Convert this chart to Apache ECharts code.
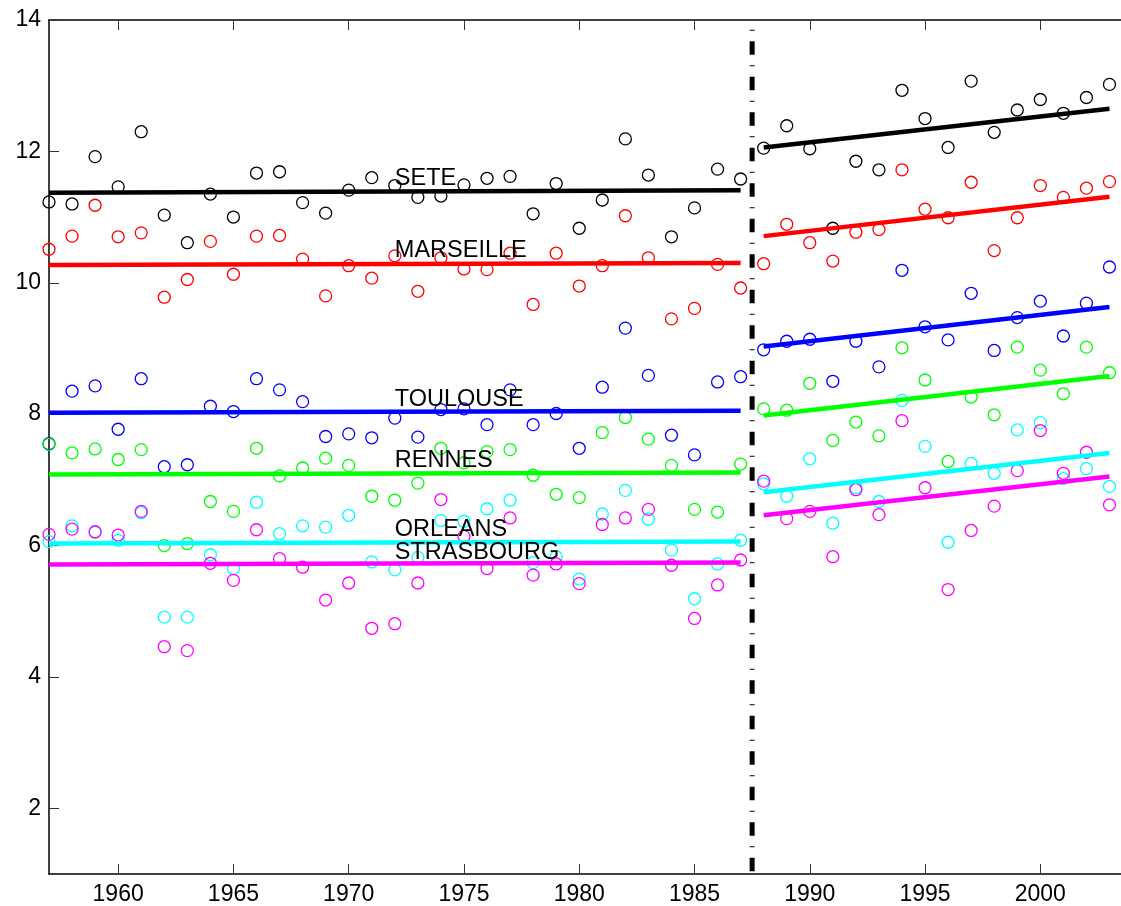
<!DOCTYPE html>
<html>
<head>
<meta charset="utf-8">
<title>Stations – temperature series</title>
<script src="https://cdn.jsdelivr.net/npm/echarts@6/dist/echarts.min.js"></script>
<style>
  html, body { margin: 0; padding: 0; background: #fff; }
  #chart { width: 1121px; height: 906px; }
</style>
</head>
<body>
<div id="chart"></div>
<script>
// Years of observation
const years = [
  1957, 1958, 1959, 1960, 1961, 1962, 1963, 1964, 1965, 1966,
  1967, 1968, 1969, 1970, 1971, 1972, 1973, 1974, 1975, 1976,
  1977, 1978, 1979, 1980, 1981, 1982, 1983, 1984, 1985, 1986,
  1987, 1988, 1989, 1990, 1991, 1992, 1993, 1994, 1995, 1996,
  1997, 1998, 1999, 2000, 2001, 2002, 2003
];

// Annual values per station (1957 → 2003)
const sete = [
  11.23, 11.20, 11.92, 11.46, 12.30, 11.03, 10.61, 11.35, 11.00, 11.67,
  11.69, 11.22, 11.06, 11.41, 11.60, 11.48, 11.30, 11.32, 11.49, 11.59,
  11.62, 11.05, 11.51, 10.83, 11.26, 12.19, 11.64, 10.70, 11.14, 11.73,
  11.58, 12.05, 12.39, 12.04, 10.83, 11.85, 11.72, 12.93, 12.50, 12.06,
  13.07, 12.29, 12.63, 12.79, 12.58, 12.82, 13.02
];
const marseille = [
  10.51, 10.71, 11.18, 10.70, 10.76, 9.78, 10.05, 10.63, 10.13, 10.71,
  10.72, 10.36, 9.80, 10.26, 10.07, 10.41, 9.87, 10.38, 10.21, 10.20,
  10.45, 9.67, 10.45, 9.95, 10.26, 11.02, 10.38, 9.45, 9.61, 10.28,
  9.92, 10.29, 10.89, 10.61, 10.33, 10.77, 10.81, 11.72, 11.12, 10.99,
  11.53, 10.49, 10.99, 11.48, 11.30, 11.44, 11.54
];
const toulouse = [
  7.55, 8.35, 8.43, 7.77, 8.54, 7.20, 7.23, 8.12, 8.04, 8.54,
  8.37, 8.19, 7.66, 7.70, 7.64, 7.94, 7.65, 8.07, 8.08, 7.84,
  8.37, 7.84, 8.01, 7.48, 8.41, 9.31, 8.59, 7.68, 7.38, 8.49,
  8.57, 8.98, 9.11, 9.14, 8.50, 9.11, 8.72, 10.19, 9.33, 9.13,
  9.84, 8.97, 9.47, 9.72, 9.19, 9.69, 10.24
];
const rennes = [
  7.54, 7.41, 7.47, 7.31, 7.46, 6.00, 6.03, 6.67, 6.52, 7.48,
  7.06, 7.18, 7.33, 7.22, 6.75, 6.69, 6.95, 7.48, 7.26, 7.43,
  7.46, 7.07, 6.78, 6.73, 7.72, 7.95, 7.62, 7.22, 6.55, 6.51,
  7.24, 8.08, 8.06, 8.47, 7.60, 7.88, 7.67, 9.01, 8.52, 7.28,
  8.26, 7.99, 9.02, 8.67, 8.31, 9.02, 8.63
];
const orleans = [
  6.06, 6.30, 6.20, 6.08, 6.50, 4.91, 4.91, 5.86, 5.65, 6.66,
  6.18, 6.30, 6.28, 6.46, 5.75, 5.63, 5.82, 6.38, 6.37, 6.56,
  6.69, 5.74, 5.83, 5.49, 6.48, 6.84, 6.40, 5.93, 5.19, 5.72,
  6.08, 6.94, 6.75, 7.32, 6.34, 6.88, 6.67, 8.21, 7.51, 6.05,
  7.25, 7.10, 7.76, 7.87, 7.02, 7.17, 6.90
];
const strasbourg = [
  6.17, 6.25, 6.21, 6.16, 6.52, 4.46, 4.40, 5.73, 5.47, 6.24,
  5.80, 5.67, 5.17, 5.43, 4.74, 4.81, 5.43, 6.70, 6.14, 5.65,
  6.42, 5.55, 5.72, 5.42, 6.32, 6.42, 6.55, 5.70, 4.89, 5.40,
  5.78, 6.98, 6.41, 6.52, 5.83, 6.85, 6.47, 7.90, 6.88, 5.33,
  6.23, 6.60, 7.14, 7.75, 7.10, 7.42, 6.62
];

// Station names, in drawing order
const stationNames = ['SETE', 'MARSEILLE', 'TOULOUSE', 'RENNES', 'ORLEANS', 'STRASBOURG'];
const stationValues = [sete, marseille, toulouse, rennes, orleans, strasbourg];
const stationColors = ['#000000', '#ff0000', '#0000ff', '#00ff00', '#00ffff', '#ff00ff'];

// Fitted trend lines: [value at start, value at end] for each period
const period1Years = [1957, 1987];
const period2Years = [1988, 2003];
const trend1 = [[11.37, 11.41], [10.27, 10.30], [8.02, 8.05], [7.08, 7.11], [6.03, 6.06], [5.71, 5.74]];
const trend2 = [[12.06, 12.65], [10.71, 11.31], [9.03, 9.63], [7.98, 8.58], [6.81, 7.41], [6.46, 7.05]];

// Station name labels
const labelYear = 1972;
const labelValues = [11.59, 10.49, 8.23, 7.30, 6.24, 5.90];

// Break between the two periods
const breakYear = 1987.5;

// Axis ticks
const xTicks = [1960, 1965, 1970, 1975, 1980, 1985, 1990, 1995, 2000];
const yTicks = [2, 4, 6, 8, 10, 12, 14];
const xRange = [1957, 2003.5];
const yRange = [1, 14];

const font = '"Liberation Sans", Arial, Helvetica, sans-serif';

const series = [];

// Observations: open circles
stationNames.forEach((name, s) => {
  series.push({
    name: name,
    type: 'scatter',
    data: years.map((y, i) => [y, stationValues[s][i]]),
    symbol: 'circle',
    symbolSize: 12,
    itemStyle: { color: 'rgba(0,0,0,0)', borderColor: stationColors[s], borderWidth: 1.3, opacity: 1 },
    z: 2,
    silent: true
  });
});

// Trend lines for both periods
stationNames.forEach((name, s) => {
  [[period1Years, trend1[s]], [period2Years, trend2[s]]].forEach(([yrs, vals]) => {
    series.push({
      name: name + ' trend',
      type: 'line',
      data: [[yrs[0], vals[0]], [yrs[1], vals[1]]],
      symbol: 'none',
      lineStyle: { color: stationColors[s], width: 4.5, cap: 'butt', opacity: 1 },
      z: 3,
      silent: true
    });
  });
});

// Station labels
series.push({
  name: 'labels',
  type: 'scatter',
  data: labelValues.map((v, i) => ({ value: [labelYear, v], name: stationNames[i] })),
  symbolSize: 0,
  itemStyle: { opacity: 1 },
  label: {
    show: true,
    position: 'right',
    distance: 0,
    formatter: p => p.name,
    color: '#000000',
    opacity: 1,
    fontFamily: font,
    fontWeight: 'normal',
    fontSize: 23.5,
    textBorderWidth: 0
  },
  z: 5,
  silent: true
});

// Dash-dot separator between the two periods
series.push({
  name: 'break',
  type: 'line',
  data: [[breakYear, yRange[1]], [breakYear, yRange[0]]],
  symbol: 'none',
  lineStyle: { color: '#000', width: 5, type: [13.5, 10.5, 1, 10.5], dashOffset: 14.3, cap: 'butt', opacity: 1 },
  z: 4,
  silent: true
});

const chart = echarts.init(document.getElementById('chart'), null, { renderer: 'canvas' });
chart.setOption({
  animation: false,
  backgroundColor: '#fff',
  grid: { left: 49, right: 0, top: 20, bottom: 31 },
  xAxis: [
    {
      type: 'value',
      position: 'bottom',
      min: xRange[0],
      max: xRange[1],
      axisLine: { show: true, lineStyle: { color: '#000', width: 1.5 } },
      axisTick: { show: true, inside: true, length: 10, customValues: xTicks, lineStyle: { color: '#333', width: 1 } },
      axisLabel: { show: true, customValues: xTicks, color: '#000', fontFamily: font, fontSize: 23, margin: 9, formatter: v => String(v) },
      splitLine: { show: false }
    },
    {
      type: 'value',
      position: 'top',
      min: xRange[0],
      max: xRange[1],
      axisLine: { show: true, lineStyle: { color: '#000', width: 1.5 } },
      axisTick: { show: true, inside: true, length: 10, customValues: xTicks, lineStyle: { color: '#333', width: 1 } },
      axisLabel: { show: false },
      splitLine: { show: false }
    }
  ],
  yAxis: {
    type: 'value',
    min: yRange[0],
    max: yRange[1],
    axisLine: { show: true, lineStyle: { color: '#000', width: 1.5 } },
    axisTick: { show: true, inside: true, length: 10, customValues: yTicks, lineStyle: { color: '#333', width: 1 } },
    axisLabel: { show: true, customValues: yTicks, color: '#000', fontFamily: font, fontSize: 23, margin: 8 },
    splitLine: { show: false }
  },
  series: series
});
</script>
</body>
</html>
